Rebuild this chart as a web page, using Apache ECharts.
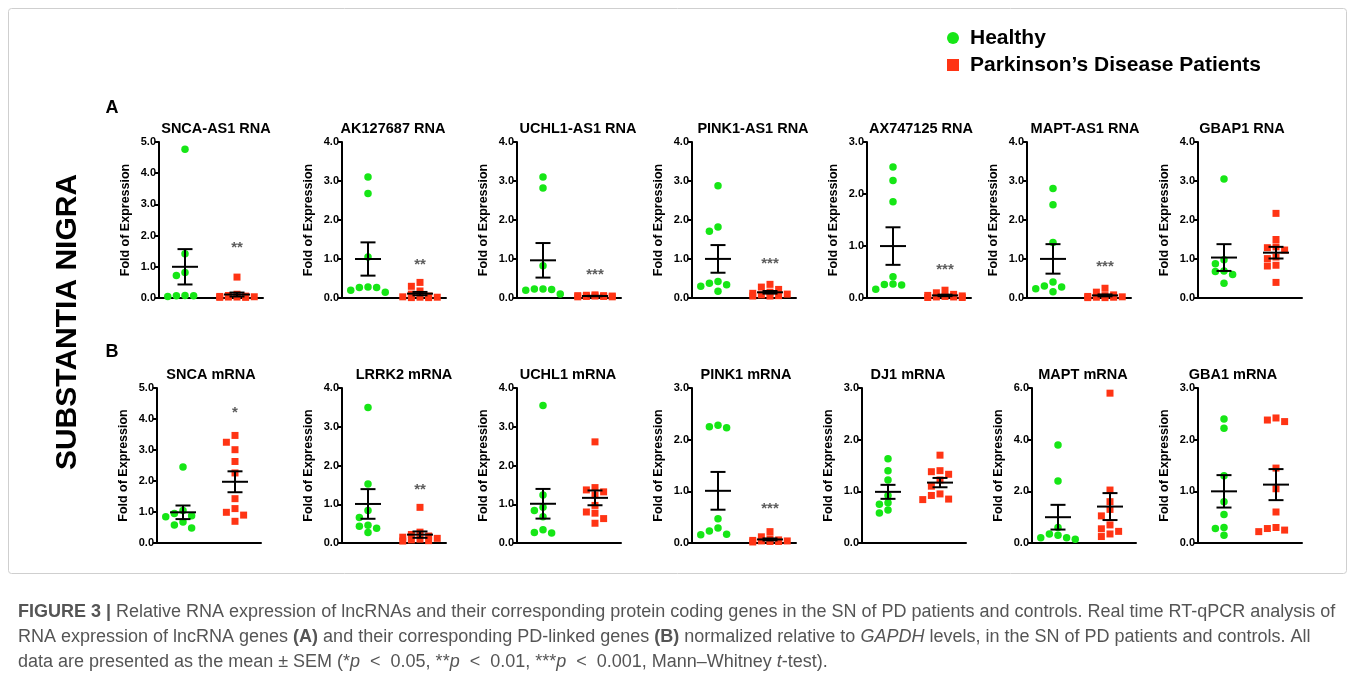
<!DOCTYPE html>
<html>
<head>
<meta charset="utf-8">
<script src="https://cdn.jsdelivr.net/npm/echarts@6/dist/echarts.min.js"></script>
<style>
html,body{margin:0;padding:0;background:#fff;}
#chart{width:1355px;height:681px;}
</style>
</head>
<body>
<div id="chart"></div>
<script>
// ---------------- DATA ----------------
const groups = ['Healthy', 'Parkinson’s Disease Patients'];

// Row A : lncRNAs
const titlesA = ['SNCA-AS1 RNA', 'AK127687 RNA', 'UCHL1-AS1 RNA', 'PINK1-AS1 RNA', 'AX747125 RNA', 'MAPT-AS1 RNA', 'GBAP1 RNA'];
const yMaxA = [5, 4, 4, 4, 3, 4, 4];
const yStepA = [1, 1, 1, 1, 1, 1, 1];
const sigA = ['**', '**', '***', '***', '***', '***', ''];
const sigLevelA = [1.6, 0.86, 0.6, 0.87, 0.55, 0.8, 0];

const sncaAs1Healthy = [4.77, 1.42, 0.82, 0.72, 0.07, 0.05, 0.08, 0.07];
const sncaAs1PD = [0.67, 0.12, 0.08, 0.06, 0.05, 0.04, 0.03, 0.03, 0.02, 0.02];
const ak127687Healthy = [3.10, 2.68, 1.05, 0.27, 0.28, 0.27, 0.15, 0.20];
const ak127687PD = [0.40, 0.30, 0.18, 0.10, 0.05, 0.03, 0.02, 0.02, 0.01, 0.01];
const uchl1As1Healthy = [3.10, 2.82, 0.83, 0.23, 0.23, 0.20, 0.22, 0.10];
const uchl1As1PD = [0.08, 0.07, 0.06, 0.06, 0.05, 0.05, 0.04, 0.04, 0.03, 0.03];
const pink1As1Healthy = [2.88, 1.82, 1.71, 0.42, 0.38, 0.34, 0.30, 0.17];
const pink1As1PD = [0.35, 0.28, 0.22, 0.15, 0.12, 0.10, 0.08, 0.06, 0.05, 0.05];
const ax747125Healthy = [2.52, 2.26, 1.85, 0.41, 0.26, 0.27, 0.25, 0.17];
const ax747125PD = [0.15, 0.10, 0.07, 0.05, 0.04, 0.03, 0.02, 0.02, 0.01, 0.01];
const maptAs1Healthy = [2.81, 2.39, 1.42, 0.41, 0.31, 0.28, 0.24, 0.16];
const maptAs1PD = [0.25, 0.15, 0.08, 0.06, 0.04, 0.03, 0.02, 0.02, 0.01, 0.01];
const gbap1Healthy = [3.05, 0.98, 0.88, 0.69, 0.68, 0.60, 0.38];
const gbap1PD = [2.17, 1.50, 1.31, 1.29, 1.23, 1.05, 1.01, 0.84, 0.82, 0.40];

// Row B : protein coding genes
const titlesB = ['SNCA mRNA', 'LRRK2 mRNA', 'UCHL1 mRNA', 'PINK1 mRNA', 'DJ1 mRNA', 'MAPT mRNA', 'GBA1 mRNA'];
const yMaxB = [5, 4, 4, 3, 3, 6, 3];
const yStepB = [1, 1, 1, 1, 1, 2, 1];
const sigB = ['*', '**', '', '***', '', '', ''];
const sigLevelB = [4.2, 1.38, 0, 0.66, 0, 0, 0];

const sncaHealthy = [2.45, 1.05, 0.95, 0.88, 0.85, 0.68, 0.58, 0.48];
const sncaPD = [3.47, 3.25, 3.01, 2.63, 2.26, 1.43, 1.11, 0.99, 0.90, 0.70];
const lrrk2Healthy = [3.50, 1.52, 0.84, 0.66, 0.43, 0.46, 0.38, 0.27];
const lrrk2PD = [0.92, 0.28, 0.22, 0.18, 0.15, 0.12, 0.10, 0.08, 0.06, 0.05];
const uchl1Healthy = [3.55, 1.24, 0.92, 0.84, 0.68, 0.34, 0.26, 0.27];
const uchl1PD = [2.61, 1.43, 1.37, 1.32, 1.24, 0.97, 0.80, 0.77, 0.63, 0.51];
const pink1Healthy = [2.28, 2.25, 2.23, 0.47, 0.29, 0.23, 0.16, 0.17];
const pink1PD = [0.22, 0.12, 0.08, 0.06, 0.05, 0.04, 0.04, 0.03, 0.03, 0.02];
const dj1Healthy = [1.63, 1.40, 1.22, 0.92, 0.78, 0.75, 0.64, 0.58];
const dj1PD = [1.70, 1.40, 1.38, 1.33, 1.22, 1.10, 0.95, 0.92, 0.85, 0.84];
const maptHealthy = [3.79, 2.40, 0.60, 0.35, 0.30, 0.20, 0.20, 0.15];
const maptPD = [5.80, 2.05, 1.60, 1.30, 1.05, 0.70, 0.55, 0.45, 0.35, 0.25];
const gba1Healthy = [2.40, 2.22, 1.30, 0.80, 0.55, 0.30, 0.28, 0.15];
const gba1PD = [2.42, 2.38, 2.35, 1.45, 1.05, 0.60, 0.30, 0.28, 0.25, 0.22];

const healthyA = [sncaAs1Healthy, ak127687Healthy, uchl1As1Healthy, pink1As1Healthy, ax747125Healthy, maptAs1Healthy, gbap1Healthy];
const pdA = [sncaAs1PD, ak127687PD, uchl1As1PD, pink1As1PD, ax747125PD, maptAs1PD, gbap1PD];
const healthyB = [sncaHealthy, lrrk2Healthy, uchl1Healthy, pink1Healthy, dj1Healthy, maptHealthy, gba1Healthy];
const pdB = [sncaPD, lrrk2PD, uchl1PD, pink1PD, dj1PD, maptPD, gba1PD];

// ---------------- LAYOUT / STYLE ----------------
const FONT = '"Liberation Sans", Arial, Helvetica, sans-serif';
const GREEN = '#16e616';
const RED = '#ff3414';
const colLeftA = [159, 342, 517, 692, 867, 1027, 1198];
const colLeftB = [157, 342, 517, 692, 862, 1032, 1198];
const titleCxA = [216, 393, 578, 753, 921, 1085, 1242];
const titleCxB = [211, 404, 568, 746, 908, 1083, 1233];
const titleCy = [129, 375];
const rowTop = [142, 388];
const rowH = [156, 155];
const plotW = 104;
const DOT = 7.5;

function meanSem(a) {
  const n = a.length;
  const m = a.reduce((s, v) => s + v, 0) / n;
  const sd = Math.sqrt(a.reduce((s, v) => s + (v - m) * (v - m), 0) / (n - 1));
  return [m, sd / Math.sqrt(n)];
}

// simple deterministic beeswarm (pixel space) so overlapping points spread sideways
function swarm(vals, max, h, diam) {
  const ppu = h / max;
  const order = vals.map((v, i) => i).sort((a, b) => vals[b] - vals[a]);
  const placed = [];
  const off = new Array(vals.length).fill(0);
  const step = diam * 1.15;
  const lim = diam * 0.95;
  const cands = [0];
  for (let k = 1; k <= 2; k++) { cands.push(-k * step, k * step); }
  for (const i of order) {
    const y = vals[i] * ppu;
    let best = null, bestOver = Infinity;
    for (const x of cands) {
      let over = 0;
      for (const p of placed) {
        const d = Math.hypot(p.x - x, p.y - y);
        if (d < lim) over += (lim - d);
      }
      if (over === 0) { best = x; break; }
      if (over < bestOver - 0.01) { bestOver = over; best = x; }
    }
    off[i] = best;
    placed.push({ x: best, y: y });
  }
  return off;
}

const grids = [], xAxes = [], yAxes = [], series = [], graphics = [];

function addPanel(row, col, title, hv, pv, ymax, ystep, sig, sigLevel) {
  const idx = grids.length;
  const left = row === 0 ? colLeftA[col] : colLeftB[col];
  const top = rowTop[row], h = rowH[row];
  grids.push({ left: left, top: top, width: plotW, height: h });
  xAxes.push({
    gridIndex: idx, type: 'category', data: groups, boundaryGap: true,
    axisLine: { lineStyle: { color: '#000', width: 2 } },
    axisTick: { alignWithLabel: true, length: 5, lineStyle: { color: '#000', width: 2 } },
    axisLabel: { show: false }, splitLine: { show: false }
  });
  yAxes.push({
    gridIndex: idx, type: 'value', min: 0, max: ymax, interval: ystep,
    name: 'Fold of Expression', nameLocation: 'middle', nameGap: 27, nameRotate: 90,
    nameTextStyle: { fontFamily: FONT, fontWeight: 'bold', fontSize: 12.5, color: '#000' },
    axisLine: { show: true, lineStyle: { color: '#000', width: 2 } },
    axisTick: { show: true, length: 4, lineStyle: { color: '#000', width: 2 } },
    axisLabel: { fontFamily: FONT, fontWeight: 'bold', fontSize: 11, color: '#000', margin: 3,
      formatter: v => v.toFixed(1) },
    splitLine: { show: false }
  });
  const ho = swarm(hv, ymax, h, DOT);
  const po = swarm(pv, ymax, h, DOT);
  series.push({
    type: 'scatter', xAxisIndex: idx, yAxisIndex: idx, symbol: 'circle', symbolSize: DOT,
    itemStyle: { color: GREEN, opacity: 1 }, z: 3, clip: false,
    data: hv.map((v, i) => ({ value: [0, v], symbolOffset: [ho[i], 0] }))
  });
  series.push({
    type: 'scatter', xAxisIndex: idx, yAxisIndex: idx, symbol: 'rect', symbolSize: DOT - 0.5,
    itemStyle: { color: RED, opacity: 1 }, z: 3, clip: false,
    data: pv.map((v, i) => ({ value: [1, v], symbolOffset: [po[i], 0] }))
  });
  const hs = meanSem(hv), ps = meanSem(pv);
  series.push({
    type: 'custom', xAxisIndex: idx, yAxisIndex: idx, z: 5, clip: false,
    data: [[0, hs[0], hs[0] - hs[1], hs[0] + hs[1]], [1, ps[0], ps[0] - ps[1], ps[0] + ps[1]]],
    renderItem: function (params, api) {
      const c = api.coord([api.value(0), api.value(1)]);
      const lo = api.coord([api.value(0), api.value(2)]);
      const hi = api.coord([api.value(0), api.value(3)]);
      const st = { stroke: '#000', lineWidth: 2 };
      return { type: 'group', children: [
        { type: 'line', shape: { x1: c[0] - 13, y1: c[1], x2: c[0] + 13, y2: c[1] }, style: st },
        { type: 'line', shape: { x1: c[0], y1: lo[1], x2: c[0], y2: hi[1] }, style: st },
        { type: 'line', shape: { x1: c[0] - 7.5, y1: hi[1], x2: c[0] + 7.5, y2: hi[1] }, style: st },
        { type: 'line', shape: { x1: c[0] - 7.5, y1: lo[1], x2: c[0] + 7.5, y2: lo[1] }, style: st }
      ] };
    }
  });
  if (sig) {
    series.push({
      type: 'scatter', xAxisIndex: idx, yAxisIndex: idx, symbolSize: 0, z: 6, silent: true,
      data: [[1, sigLevel]],
      label: { show: true, position: 'inside', formatter: sig, fontFamily: FONT,
        fontWeight: 'bold', fontSize: 15, color: '#333' }
    });
  }
  graphics.push({
    type: 'text', x: (row === 0 ? titleCxA : titleCxB)[col], y: titleCy[row],
    style: { text: title, align: 'center', verticalAlign: 'middle', font: 'bold 14.5px ' + FONT, fill: '#000' }
  });
}

for (let i = 0; i < 7; i++) addPanel(0, i, titlesA[i], healthyA[i], pdA[i], yMaxA[i], yStepA[i], sigA[i], sigLevelA[i]);
for (let i = 0; i < 7; i++) addPanel(1, i, titlesB[i], healthyB[i], pdB[i], yMaxB[i], yStepB[i], sigB[i], sigLevelB[i]);

// frame, labels, legend, caption
graphics.unshift({ type: 'rect', shape: { x: 8.5, y: 8.5, width: 1338, height: 565, r: 3 },
  style: { fill: 'none', stroke: '#cfcfcf', lineWidth: 1 }, z: -1 });
graphics.push({ type: 'text', x: 112, y: 108, style: { text: 'A', font: 'bold 18px ' + FONT, fill: '#000', align: 'center', verticalAlign: 'middle' } });
graphics.push({ type: 'text', x: 112, y: 352, style: { text: 'B', font: 'bold 18px ' + FONT, fill: '#000', align: 'center', verticalAlign: 'middle' } });
graphics.push({ type: 'text', x: 68, y: 322, rotation: Math.PI / 2,
  style: { text: 'SUBSTANTIA NIGRA', font: 'bold 30px ' + FONT, fill: '#000', align: 'center', verticalAlign: 'middle' } });
graphics.push({ type: 'circle', shape: { cx: 953, cy: 38, r: 6 }, style: { fill: GREEN } });
graphics.push({ type: 'rect', shape: { x: 947, y: 59, width: 12, height: 12 }, style: { fill: RED } });
graphics.push({ type: 'text', x: 970, y: 38, style: { text: groups[0], font: 'bold 21px ' + FONT, fill: '#000', verticalAlign: 'middle' } });
graphics.push({ type: 'text', x: 970, y: 65, style: { text: groups[1], font: 'bold 21px ' + FONT, fill: '#000', verticalAlign: 'middle' } });

const CAP = 18;
const capRich = {
  b: { fontFamily: FONT, fontWeight: 'bold', fontSize: CAP, color: '#333' },
  bb: { fontFamily: FONT, fontWeight: 'bold', fontSize: CAP, color: '#444' },
  n: { fontFamily: FONT, fontSize: CAP, color: '#555' },
  i: { fontFamily: FONT, fontStyle: 'italic', fontSize: CAP, color: '#555' }
};
const capLines = [
  '{b|FIGURE 3 |}{n| Relative RNA expression of lncRNAs and their corresponding protein coding genes in the SN of PD patients and controls. Real time RT-qPCR analysis of}',
  '{n|RNA expression of lncRNA genes }{bb|(A)}{n| and their corresponding PD-linked genes }{bb|(B)}{n| normalized relative to }{i|GAPDH}{n| levels, in the SN of PD patients and controls. All}',
  '{n|data are presented as the mean ± SEM (*}{i|p}{n|  <  0.05, **}{i|p}{n|  <  0.01, ***}{i|p}{n|  <  0.001, Mann–Whitney }{i|t}{n|-test).}'
];
capLines.forEach((t, k) => {
  graphics.push({ type: 'text', x: 18, y: 612 + k * 25,
    style: { text: t, rich: capRich, verticalAlign: 'middle', font: CAP + 'px ' + FONT, fill: '#555' } });
});

const chart = echarts.init(document.getElementById('chart'), null, { renderer: 'canvas' });
chart.setOption({
  animation: false,
  backgroundColor: '#fff',
  grid: grids, xAxis: xAxes, yAxis: yAxes, series: series,
  graphic: graphics
});
</script>
</body>
</html>
